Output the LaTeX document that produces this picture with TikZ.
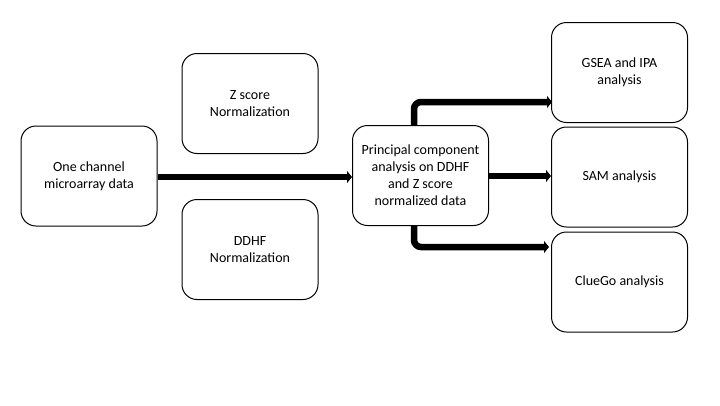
\documentclass[tikz,border=0pt]{standalone}
\usepackage{fontspec}
\setmainfont{Carlito}
\usetikzlibrary{arrows.meta}
\tikzset{
  stepbox/.style={draw, line width=1pt, rounded corners=15pt, minimum width=136pt,
    minimum height=100pt, align=center, font=\fontsize{14pt}{17pt}\selectfont},
  flow/.style={line width=6.5pt, rounded corners=7pt, -{Triangle[length=5pt,width=12pt]}}
}
\begin{document}
\begin{tikzpicture}[x=1pt, y=-1pt]
        \useasboundingbox (0, 0) rectangle (720, 405);

        % Input and normalization boxes
        \node[stepbox] (input) at (89, 176) {One channel\\microarray data};
        \node[stepbox] (zscore) at (250, 103.5) {Z score\\Normalization};
        \node[stepbox] (ddhf) at (250, 249.5) {DDHF\\Normalization};

        % PCA box
        \node[stepbox] (pca) at (420.5, 175.5) {Principal component\\analysis on DDHF\\and Z score\\normalized data};

        % Analysis boxes
        \node[stepbox] (gsea) at (619.5, 72.5) {GSEA and IPA\\analysis};
        \node[stepbox] (sam) at (619.5, 177) {SAM analysis};
        \node[stepbox] (cluego) at (619.5, 282) {ClueGo analysis};

        % Arrow tips
        \coordinate (gseatip) at (552, 102);
        \coordinate (cluegotip) at (549, 247);

        % Arrows
        \draw[flow] (input.east |- 0, 177) -- (pca.west |- 0, 177);
        \draw[flow] ([xshift=-6.5pt]pca.north) |- (gseatip);
        \draw[flow] (pca.east |- 0, 176) -- (sam.west |- 0, 176);
        \draw[flow] ([xshift=-6.5pt]pca.south) |- (cluegotip);
\end{tikzpicture}
\end{document}
